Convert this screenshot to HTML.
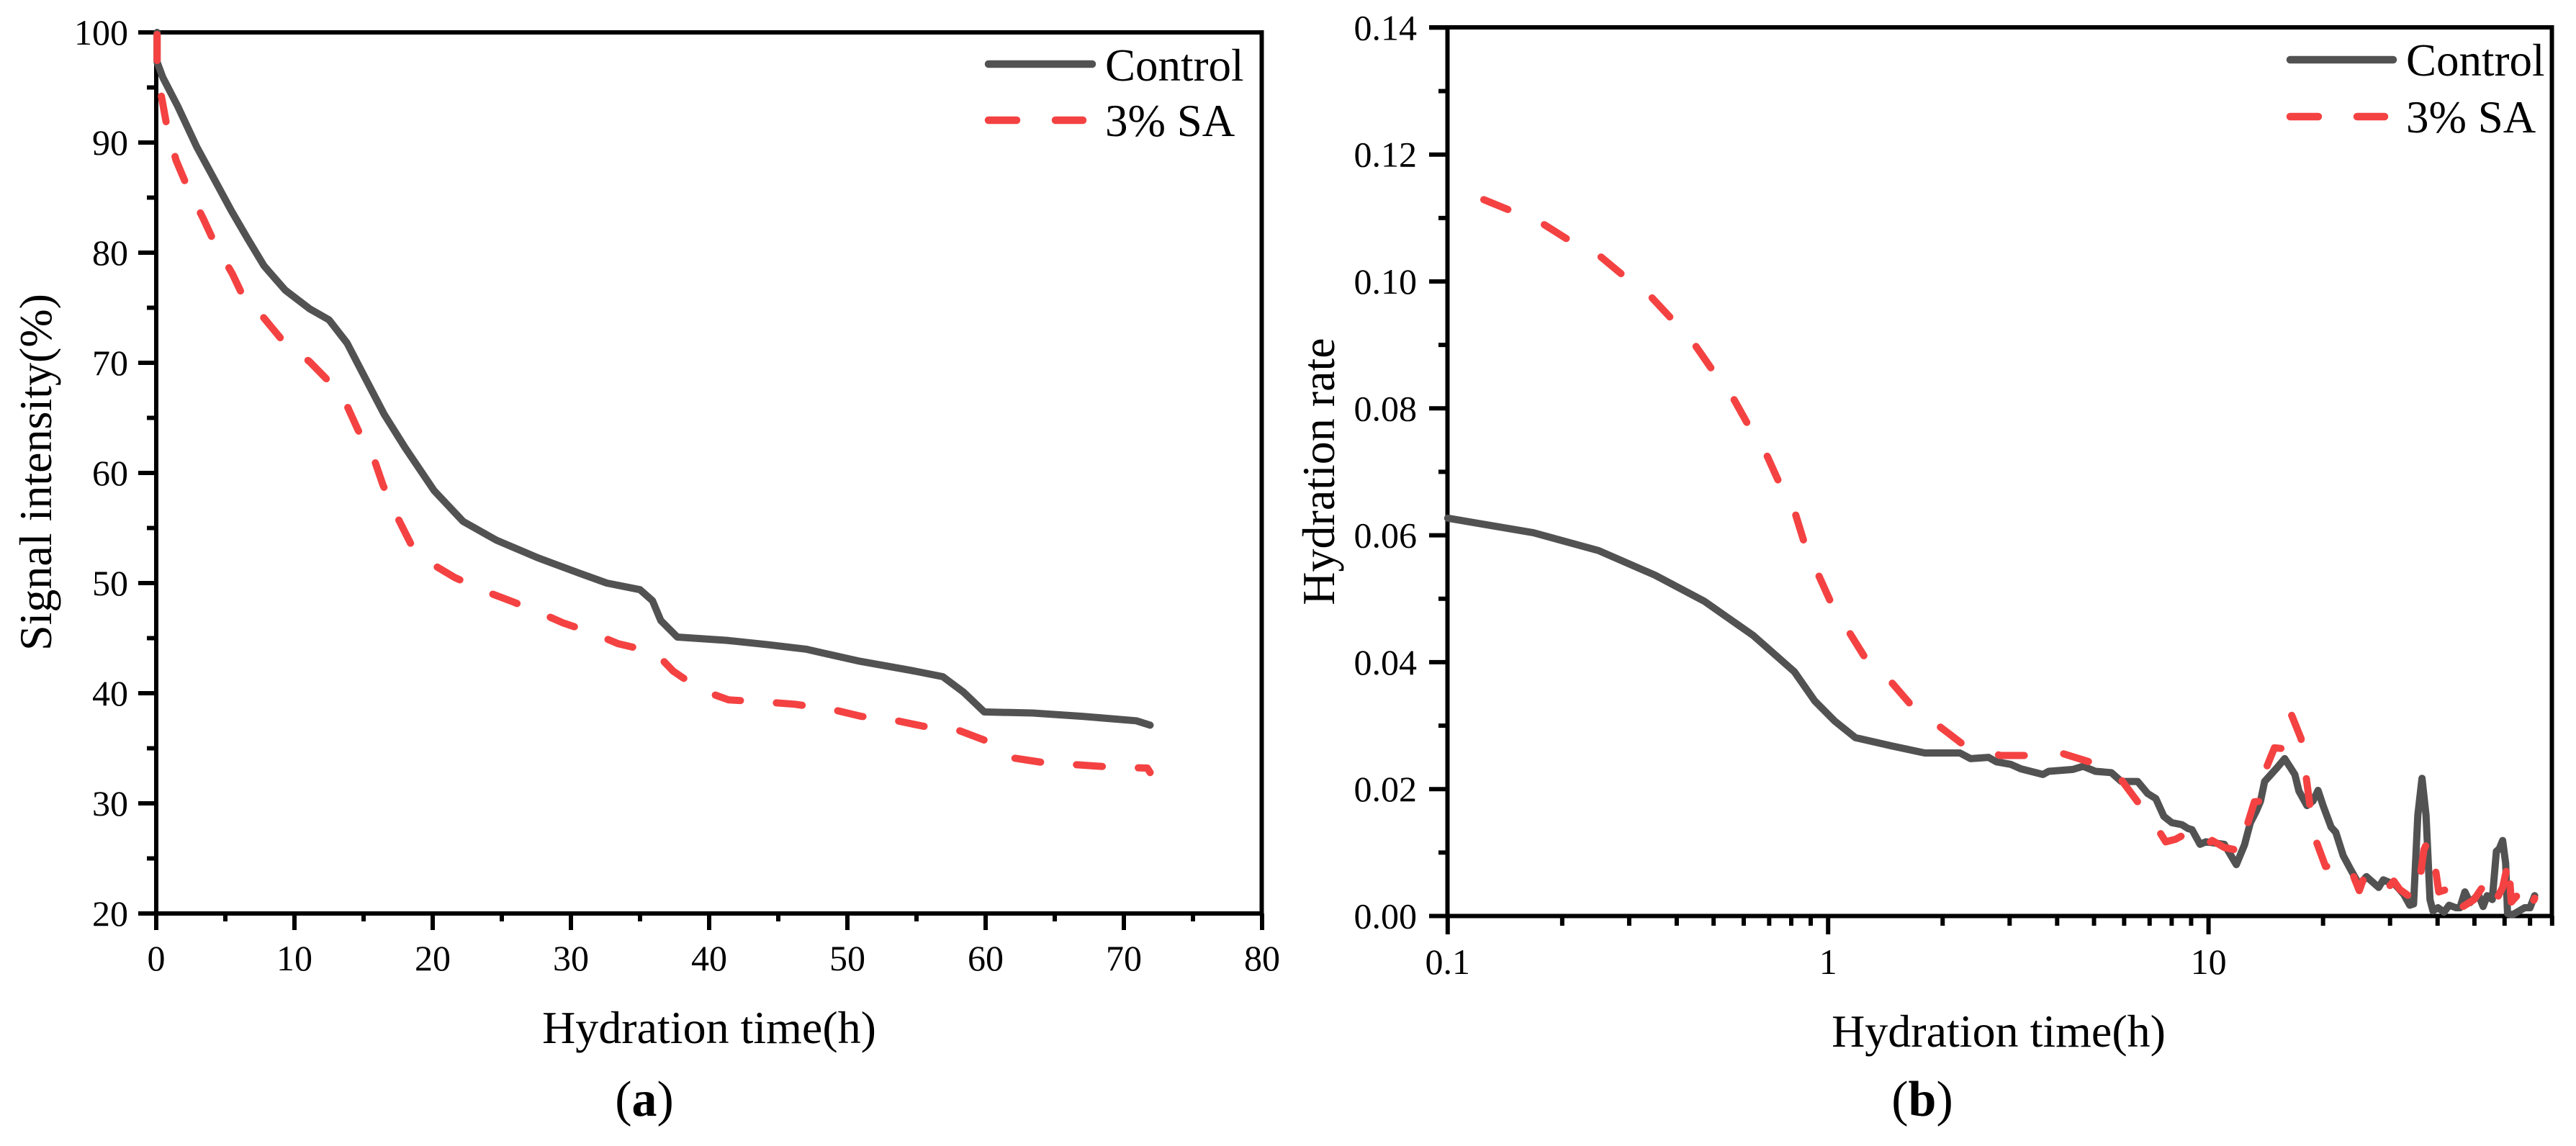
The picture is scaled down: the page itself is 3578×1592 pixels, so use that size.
<!DOCTYPE html>
<html lang="en">
<head>
<meta charset="utf-8">
<title>Signal intensity and hydration rate charts</title>
<style>
html,body{margin:0;padding:0;background:#fff;}
svg{display:block;}
text{font-family:"Liberation Serif",serif;fill:#000;}
</style>
</head>
<body>
<svg id="figure" xmlns="http://www.w3.org/2000/svg" width="3578" height="1592" viewBox="0 0 3578 1592">
  <g id="panel-a"></g>
  <g id="panel-b"></g>
</svg>
<script>
// Panel (a): signal intensity vs hydration time
const xTicksA = [0, 10, 20, 30, 40, 50, 60, 70, 80];
const xMinorA = [5, 15, 25, 35, 45, 55, 65, 75];
const yTicksA = [20, 30, 40, 50, 60, 70, 80, 90, 100];
const yMinorA = [25, 35, 45, 55, 65, 75, 85, 95];
const controlTimeA = [0.06,0.06,0.48,1.55,2.93,4.36,5.44,6.6,7.8,9.33,11.1,12.5,13.8,15,16.5,18,20.1,22.2,24.6,27.6,30.6,32.6,35,35.9,36.5,37.7,41.3,44.3,47,50.9,54.5,56.9,58.4,59.9,63.4,67,70.9,71.9];
const controlSignalA = [100,97.3,95.9,93.3,89.6,86.3,83.8,81.3,78.8,76.6,74.9,73.9,71.8,68.9,65.3,62.3,58.4,55.6,53.9,52.3,50.9,50,49.4,48.4,46.6,45.1,44.8,44.4,44,42.9,42.1,41.5,40.1,38.3,38.2,37.9,37.5,37.1];
const saTimeA = [0.06,0.06,0.36,0.78,1.43,2.27,3.4,4.25,5.5,6.45,7.77,9.15,11.1,12.5,13.8,14.6,15.8,16.4,17.4,18.4,20,21.6,23.9,25.8,27.6,29.4,31.5,33.4,36.1,37.4,39.4,41.4,44,46.2,49,51,53.6,55.5,58.1,60,62.1,64.2,66.7,69,71.7,71.9];
const saSignalA = [100,97.3,94.3,91.4,88.4,85.9,83.1,80.8,78.1,75.6,74.1,72,70.1,68.3,66.1,63.9,61.1,58.9,56.1,53.6,51.7,50.5,49.2,48.3,47.4,46.4,45.5,44.5,43.7,42,40.3,39.4,39.2,39,38.5,37.9,37.5,37,36.6,35.7,34.1,33.7,33.5,33.3,33.2,32.8];

// Panel (b): hydration rate vs hydration time (log axis)
const xTicksB = [0.1, 1, 10];
const xMinorB = [0.2,0.3,0.4,0.5,0.6,0.7,0.8,0.9,2,3,4,5,6,7,8,9,20,30,40,50,60,70,80];
const yTicksB = [0, 0.02, 0.04, 0.06, 0.08, 0.10, 0.12, 0.14];
const yMinorB = [0.01, 0.03, 0.05, 0.07, 0.09, 0.11, 0.13];
const controlTimeB = [0.1,0.168,0.249,0.351,0.473,0.636,0.815,0.922,1.042,1.18,1.47,1.795,2.02,2.22,2.37,2.64,2.77,3.02,3.21,3.67,3.8,4.4,4.68,5.04,5.55,5.9,6.51,6.92,7.27,7.63,8.01,8.51,8.83,9.05,9.5,9.85,11,11.83,12.43,12.88,13.37,13.7,14.04,15.1,15.86,16.86,17.28,18.14,18.81,19.4,20,21,21.6,22.6,23.7,24.9,26,28,28.8,31,32.6,33.8,34.6,35.5,36.4,37.3,38.2,38.9,40.1,41.6,42.9,44.7,45.8,47.2,48.7,51.2,52.7,54,55.7,57.1,58.1,59.3,60.4,61.1,63,67.8,70,72];
const controlRateB = [0.0627,0.0604,0.0576,0.0537,0.0496,0.0442,0.0385,0.0339,0.0307,0.0281,0.0268,0.0257,0.0257,0.0257,0.0248,0.025,0.0243,0.0239,0.0232,0.0223,0.0228,0.0231,0.0236,0.0228,0.0226,0.0212,0.0212,0.0193,0.0185,0.0157,0.0147,0.0144,0.0138,0.0136,0.0113,0.0117,0.0113,0.0081,0.0112,0.0147,0.0166,0.0181,0.0212,0.0233,0.0248,0.0223,0.0197,0.0174,0.0181,0.0198,0.0174,0.014,0.0132,0.0095,0.0072,0.0049,0.0062,0.0045,0.0057,0.0049,0.0034,0.0017,0.0019,0.0159,0.0217,0.0159,0.0026,0.0008,0.0013,0.0006,0.0017,0.0013,0.0013,0.0038,0.0021,0.0034,0.0015,0.0032,0.0026,0.0102,0.0106,0.0119,0.0083,0.0004,0.0002,0.0013,0.0013,0.0032];
const saTimeB = [0.122,0.146,0.1746,0.2046,0.2467,0.286,0.335,0.381,0.442,0.493,0.56,0.615,0.689,0.745,0.819,0.869,0.944,1.017,1.134,1.245,1.459,1.65,2.02,2.28,2.84,3.37,4.09,4.86,5.76,6.38,7.3,7.72,8.2,8.91,9.73,10.22,11,12.37,12.5,13.2,13.83,14,14.9,15.76,16.1,16.5,17.5,18,18.45,19.1,20.3,22.2,22.9,24,24.9,25.9,28.7,29.5,30.7,31.8,35,35.9,36.8,37.8,39.2,40.3,42.9,44.2,49.9,52.7,55.7,59.3,60.6,61.1,61.7,62.5,65.8,69.4,72];
const saRateB = [0.1131,0.1112,0.1094,0.1068,0.1044,0.1012,0.0982,0.0946,0.0904,0.0863,0.0819,0.0775,0.0727,0.0682,0.0635,0.0585,0.0537,0.0494,0.0448,0.0409,0.037,0.0333,0.0293,0.0269,0.0253,0.0253,0.0257,0.0243,0.0223,0.0187,0.014,0.0117,0.0121,0.0133,0.0108,0.0119,0.0108,0.01015,0.0134,0.018,0.0181,0.0225,0.0265,0.02638,0.0306,0.0318,0.028,0.0225,0.0176,0.0121,0.0078,0.008,0.0057,0.0064,0.004,0.00686,0.0051,0.0043,0.0055,0.0042,0.0024,0.0055,0.0104,0.01197,0.0087,0.0038,0.0043,0.0006,0.0026,0.0047,0.0013,0.0045,0.0071,0.00913,0.0071,0.0022,0.0037,0.0006,0.0028];

const legendLabels = ["Control", "3% SA"];
const GREY = "#525252";
const RED = "#f44242";
const NS = "http://www.w3.org/2000/svg";

// Axis functions
function xA(t) { return 217 + t * 19.2; }
function yA(v) { return 1269 - (v - 20) * 15.3; }
function xB(t) { return 2010.8 + (Math.log10(t) + 1) * 528.4; }
function yB(r) { return 1272.5 - r * 8815; }

function make(tag, parent, attrs, content) {
  const el = document.createElementNS(NS, tag);
  for (const k in attrs) el.setAttribute(k, attrs[k]);
  if (content !== undefined) el.textContent = content;
  parent.appendChild(el);
  return el;
}

function axisLine(parent, x1, y1, x2, y2, name) {
  const el = make("line", parent, { x1: x1, y1: y1, x2: x2, y2: y2, stroke: "#000", "stroke-width": 6 });
  
  
  return el;
}

function seriesPath(parent, xs, ys, fx, fy, color, dash, offset, name) {
  const d = xs.map(function (x, i) { return (i ? "L" : "M") + fx(x).toFixed(1) + " " + fy(ys[i]).toFixed(1); }).join(" ");
  const el = make("path", parent, { d: d, fill: "none", stroke: color, "stroke-width": 10, "stroke-linecap": "round", "stroke-linejoin": "round" });
  if (dash) {
    el.setAttribute("stroke-dasharray", dash);
    el.setAttribute("stroke-dashoffset", offset);
  }
  
  
  return el;
}

function label(parent, x, y, size, anchor, str, name, extra) {
  const el = make("text", parent, Object.assign({ x: x, y: y, "font-size": size, "text-anchor": anchor }, extra || {}), str);
  
  
  return el;
}

function legend(parent, lineX, lineEnd, textX, y1, y2, base1, base2) {
  const g = make("g", parent, {});
  
  
  const solid = make("line", g, { x1: lineX + 5, y1: y1, x2: lineEnd - 5, y2: y1, stroke: GREY, "stroke-width": 10.5, "stroke-linecap": "round" });
  
  
  const dashed = make("line", g, { x1: lineX + 5, y1: y2, x2: lineX + 136, y2: y2, stroke: RED, "stroke-width": 10.5, "stroke-linecap": "round", "stroke-dasharray": "39 54" });
  
  
  label(g, textX, base1, 63, "start", legendLabels[0], "legend-label-control");
  label(g, textX, base2, 63, "start", legendLabels[1], "legend-label-3-percent-sa");
}

// ---- Panel (a) ----
const pa = document.getElementById("panel-a");
axisLine(pa, 192, 45, 1755, 45, "top-axis-a");
axisLine(pa, 192, 1269, 1755, 1269, "x-axis-a");
axisLine(pa, 217, 42, 217, 1272, "y-axis-a");
axisLine(pa, 1752.5, 42, 1752.5, 1272, "right-axis-a");
xTicksA.forEach(function (t) {
  axisLine(pa, xA(t), 1269, xA(t), 1292, "x-tick-a");
  label(pa, xA(t), 1348, 50, "middle", String(t), "x-tick-label-a");
});
xMinorA.forEach(function (t) { axisLine(pa, xA(t), 1269, xA(t), 1280, "x-minor-tick-a"); });
yTicksA.forEach(function (v) {
  axisLine(pa, 192, yA(v), 217, yA(v), "y-tick-a");
  label(pa, 178, yA(v) + 17, 50, "end", String(v), "y-tick-label-a");
});
yMinorA.forEach(function (v) { axisLine(pa, 204, yA(v), 217, yA(v), "y-minor-tick-a"); });
seriesPath(pa, controlTimeA, controlSignalA, xA, yA, GREY, null, 0, "control-line-a");
seriesPath(pa, saTimeA, saSignalA, xA, yA, RED, "36 50", -3, "sa-line-a");
legend(pa, 1368, 1522, 1535, 89, 167, 112, 189);
label(pa, 985, 1449, 64, "middle", "Hydration time(h)", "x-axis-title-a");
label(pa, 71, 656, 64, "middle", "Signal intensity(%)", "y-axis-title-a", { transform: "rotate(-90 71 656)" });
const capA = label(pa, 895, 1550, 70, "middle", "(", "panel-label-a");
const capAb = make("tspan", capA, { "font-weight": "bold" }, "a");


capA.appendChild(document.createTextNode(")"));

// ---- Panel (b) ----
const pb = document.getElementById("panel-b");
axisLine(pb, 1985, 38, 3547.5, 38, "top-axis-b");
axisLine(pb, 1985, 1272.5, 3547.5, 1272.5, "x-axis-b");
axisLine(pb, 2010.5, 35, 2010.5, 1275, "y-axis-b");
axisLine(pb, 3544.5, 35, 3544.5, 1275, "right-axis-b");
xTicksB.forEach(function (t) {
  axisLine(pb, xB(t), 1272, xB(t), 1298, "x-tick-b");
  label(pb, xB(t), 1353, 50, "middle", String(t), "x-tick-label-b");
});
xMinorB.forEach(function (t) { axisLine(pb, xB(t), 1272, xB(t), 1286, "x-minor-tick-b"); });
yTicksB.forEach(function (v) {
  axisLine(pb, 1985, yB(v), 2010, yB(v), "y-tick-b");
  label(pb, 1968, yB(v) + 17, 50, "end", v.toFixed(2), "y-tick-label-b");
});
yMinorB.forEach(function (v) { axisLine(pb, 1998, yB(v), 2010, yB(v), "y-minor-tick-b"); });
seriesPath(pb, controlTimeB, controlRateB, xB, yB, GREY, null, 0, "control-line-b");
seriesPath(pb, saTimeB, saRateB, xB, yB, RED, "36 55", -5, "sa-line-b");
legend(pb, 3176, 3329, 3342, 83, 162, 105, 184);
label(pb, 2776, 1454, 64, "middle", "Hydration time(h)", "x-axis-title-b");
label(pb, 1853, 655, 64, "middle", "Hydration rate", "y-axis-title-b", { transform: "rotate(-90 1853 655)" });
const capB = label(pb, 2670, 1550, 70, "middle", "(", "panel-label-b");
const capBb = make("tspan", capB, { "font-weight": "bold" }, "b");


capB.appendChild(document.createTextNode(")"));
</script>
</body>
</html>
